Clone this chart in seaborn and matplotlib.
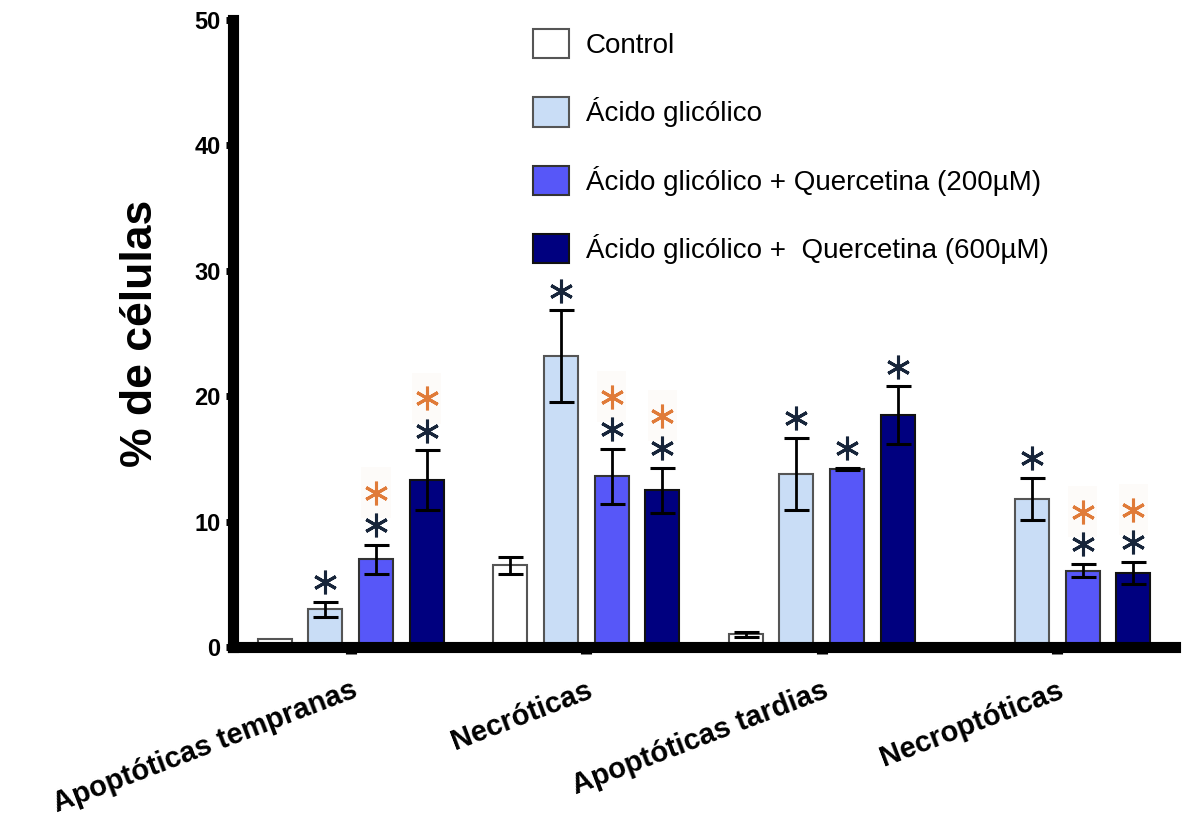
import numpy as np
import pandas as pd
import matplotlib
matplotlib.use("Agg")
import matplotlib.pyplot as plt
import seaborn as sns

# ---- data ----
categories = ["Apoptóticas tempranas", "Necróticas", "Apoptóticas tardias", "Necroptóticas"]
groups = ["Control", "Ácido glicólico",
          "Ácido glicólico + Quercetina (200µM)",
          "Ácido glicólico +  Quercetina (600µM)"]
control = [0.6, 6.5, 1.0, 0.1]
acido = [3.0, 23.2, 13.8, 11.8]
q200 = [7.0, 13.6, 14.2, 6.1]
q600 = [13.3, 12.5, 18.5, 5.9]
control_err = [0.0, 0.7, 0.2, 0.0]
acido_err = [0.6, 3.65, 2.9, 1.7]
q200_err = [1.15, 2.2, 0.1, 0.55]
q600_err = [2.4, 1.8, 2.3, 0.9]
# significance marks (dark = vs control, orange = vs ácido glicólico)
sig_dark = [[0, 0, 0, 0], [1, 1, 1, 1], [1, 1, 1, 1], [1, 1, 1, 1]]
sig_orange = [[0, 0, 0, 0], [0, 0, 0, 0], [1, 1, 0, 1], [1, 1, 0, 1]]
yticks = [0, 10, 20, 30, 40, 50]

means = [control, acido, q200, q600]
errs = [control_err, acido_err, q200_err, q600_err]

rows = []
for g, vals in zip(groups, means):
    for c, v in zip(categories, vals):
        rows.append({"cat": c, "grp": g, "val": v})
df = pd.DataFrame(rows)

palette = ["#FFFFFF", "#C9DDF6", "#5757F8", "#00007F"]
edges = ["#555555", "#555555", "#333333", "#111111"]

sns.set_style("white")
plt.rcParams["font.family"] = ["Liberation Sans", "DejaVu Sans"]
plt.rcParams["text.color"] = "black"
plt.rcParams["xtick.color"] = "black"
plt.rcParams["ytick.color"] = "black"
plt.rcParams["axes.labelcolor"] = "black"

fig = plt.figure(figsize=(11.92, 8.25), dpi=100)
ax = fig.add_axes([233 / 1192, (825 - 647) / 825, (1175 - 233) / 1192, (647 - 20) / 825])

sns.barplot(data=df, x="cat", y="val", hue="grp", order=categories, hue_order=groups,
            palette=palette, errorbar=None, width=0.86, gap=0.33, legend=False,
            saturation=1, ax=ax, linewidth=1.5, zorder=2)

bar_containers = list(ax.containers)
for i, cont in enumerate(bar_containers):
    for j, bar in enumerate(cont.patches):
        bar.set_edgecolor(edges[i])
        xc = bar.get_x() + bar.get_width() / 2
        m = means[i][j]
        e = errs[i][j]
        if e > 0:
            ax.errorbar(xc, m, yerr=e, color="black", capsize=9, capthick=2.2,
                        elinewidth=2.0, zorder=3)
        top = m + e
        if sig_dark[i][j]:
            ax.plot(xc, top + 1.55, marker=(6, 2, 0), markersize=17, mew=2.2,
                    color="#17253A", zorder=4)
        if sig_orange[i][j]:
            ax.text(xc, top + 4.15, " ", ha="center", va="center", fontsize=24,
                    bbox=dict(boxstyle="square,pad=0.3", fc="#FDFBF9", ec="none"), zorder=3)
            ax.plot(xc, top + 4.15, marker=(6, 2, 0), markersize=17, mew=2.2,
                    color="#E07B39", zorder=4)

ax.set_xlim(-0.5, 3.5)
ax.set_ylim(0, 50)
ax.set_yticks(yticks)
ax.set_yticklabels([str(t) for t in yticks], fontsize=17, fontweight="bold")
ax.set_xticks(range(len(categories)))
ax.set_xticklabels(categories, rotation=21, ha="right", rotation_mode="anchor",
                   fontsize=21, fontweight="bold")
ax.set_xlabel("")
ax.set_ylabel("% de células", fontsize=32, fontweight="bold", labelpad=24)

for s in ["top", "right"]:
    ax.spines[s].set_visible(False)
for s in ["left", "bottom"]:
    ax.spines[s].set_linewidth(8)
    ax.spines[s].set_color("black")
    ax.spines[s].set_capstyle("projecting")
ax.tick_params(axis="y", direction="out", length=5, width=5, color="black", pad=4, left=True)
ax.tick_params(axis="x", direction="out", length=5, width=8, color="black", pad=16, bottom=True)

handles = [plt.Rectangle((0, 0), 1, 1, fc=palette[i], ec=edges[i], lw=1.5) for i in range(4)]
leg = fig.legend(handles, groups, loc="upper left", bbox_to_anchor=(508 / 1192, 1 - 4 / 825),
                 frameon=False, fontsize=20, handlelength=1.3, handleheight=1.25,
                 labelspacing=1.38, handletextpad=0.6)

fig.savefig("out.png", dpi=100)
